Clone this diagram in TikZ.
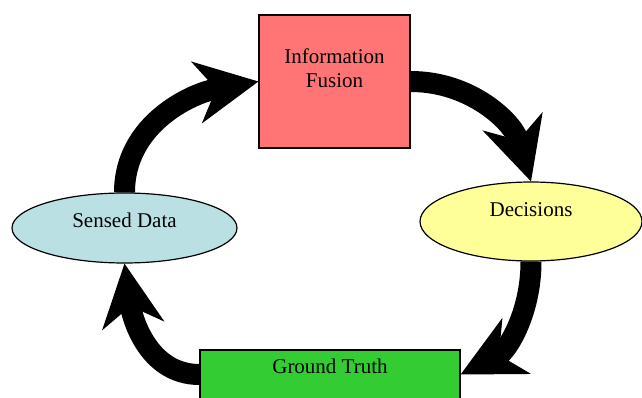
\documentclass[tikz,border=0pt]{standalone}
\usepackage{fontspec}
\setmainfont{Liberation Serif}
\usetikzlibrary{shapes,arrows.meta}

\definecolor{fusionred}{RGB}{255,117,117}
\definecolor{decisionyellow}{RGB}{255,255,153}
\definecolor{sensedblue}{RGB}{187,224,227}
\definecolor{groundgreen}{RGB}{51,204,51}

\tikzset{
  box/.style={draw=black,line width=1.2pt,inner sep=0pt,font=\fontsize{21}{24}\selectfont},
  flow/.style={line width=21pt,-{Stealth[length=63pt,width=63pt,inset=20pt,line width=0pt]}},
}

\begin{document}
\begin{tikzpicture}[x=1pt,y=-1pt]
\useasboundingbox (0,0) rectangle (642,398);
\node[box,shape=rectangle,fill=fusionred,minimum width=151pt,minimum height=133pt,label={[align=center,font=\fontsize{21}{24}\selectfont,yshift=13pt]center:Information\\Fusion}] (0) at (334.5,81.5) {};
\node[box,shape=ellipse,fill=decisionyellow,minimum width=222pt,minimum height=79pt,label={[font=\fontsize{21}{24}\selectfont,yshift=12pt]center:Decisions}] (1) at (531,221.5) {};
\node[box,shape=rectangle,fill=groundgreen,minimum width=260pt,minimum height=49pt,label={[font=\fontsize{21}{24}\selectfont,yshift=8.5pt]center:Ground Truth}] (2) at (330,374.5) {};
\node[box,shape=ellipse,fill=sensedblue,minimum width=225pt,minimum height=70pt,label={[font=\fontsize{21}{24}\selectfont,yshift=8pt]center:Sensed Data}] (3) at (124.5,228) {};

\path [flow] (3.north) edge[out=90,in=190] (0.west);
\path [flow] (0.east) edge[out=0,in=107] (1.north);
\path [flow] (1.south) edge[out=-90,in=27] (2.east);
\path [flow] (2.west) edge[out=180,in=-82] (3.south);
\end{tikzpicture}
\end{document}
